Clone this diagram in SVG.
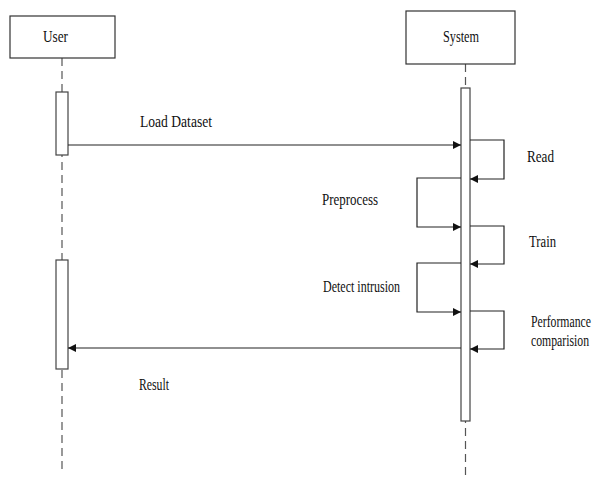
<svg xmlns="http://www.w3.org/2000/svg" width="597" height="480" viewBox="0 0 597 480">
<style>
.box{fill:#fff;stroke:#333;stroke-width:1.2}
.act{fill:#fff;stroke:#444;stroke-width:1.2}
.life{stroke:#555;stroke-width:1.2;stroke-dasharray:8,5;fill:none}
.msg{stroke:#222;stroke-width:1.2;fill:none}
.t{font-family:"Liberation Serif","Times New Roman",Times,serif;font-size:17px;fill:#111}
</style>
<defs>
<marker id="ah" viewBox="0 0 10 10" refX="10" refY="5" markerWidth="9" markerHeight="8" markerUnits="userSpaceOnUse" orient="auto">
<path d="M0,0 L10,5 L0,10 z" fill="#111"/>
</marker>
</defs>
<g id="lifelines">
<line class="life" x1="62" y1="58" x2="62" y2="472"/>
<line class="life" x1="465.5" y1="64" x2="465.5" y2="480"/>
</g>
<g id="user">
<rect class="box" x="10" y="16" width="105" height="42"/>
<text class="t" transform="translate(43,42) scale(0.72,1)" textLength="34.7" lengthAdjust="spacingAndGlyphs">User</text>
</g>
<g id="system">
<rect class="box" x="406" y="11" width="109" height="53"/>
<text class="t" transform="translate(443,42) scale(0.72,1)" textLength="50" lengthAdjust="spacingAndGlyphs">System</text>
</g>
<g id="user-activation-1"><rect class="act" x="56" y="92" width="12" height="63"/></g>
<g id="user-activation-2"><rect class="act" x="56" y="260" width="12" height="109"/></g>
<g id="system-activation"><rect class="act" x="461" y="88" width="9" height="333"/></g>
<g id="connectors">
<line class="msg" x1="68" y1="145" x2="461" y2="145" marker-end="url(#ah)"/>
<polyline class="msg" points="470,140 504,140 504,179 470,179" marker-end="url(#ah)"/>
<polyline class="msg" points="461,178 417,178 417,227 461,227" marker-end="url(#ah)"/>
<polyline class="msg" points="470,226 504,226 504,264 470,264" marker-end="url(#ah)"/>
<polyline class="msg" points="461,263 417,263 417,312 461,312" marker-end="url(#ah)"/>
<polyline class="msg" points="470,311 504,311 504,349 470,349" marker-end="url(#ah)"/>
<line class="msg" x1="461" y1="348" x2="68" y2="348" marker-end="url(#ah)"/>
</g>
<g id="labels">
<text class="t" transform="translate(140,127) scale(0.72,1)" textLength="100" lengthAdjust="spacingAndGlyphs">Load Dataset</text>
<text class="t" transform="translate(527,162) scale(0.72,1)" textLength="37.5" lengthAdjust="spacingAndGlyphs">Read</text>
<text class="t" transform="translate(322,205) scale(0.72,1)" textLength="77.8" lengthAdjust="spacingAndGlyphs">Preprocess</text>
<text class="t" transform="translate(529,247) scale(0.72,1)" textLength="37.5" lengthAdjust="spacingAndGlyphs">Train</text>
<text class="t" transform="translate(323,292) scale(0.72,1)" textLength="106.9" lengthAdjust="spacingAndGlyphs">Detect intrusion</text>
<text class="t" transform="translate(531,327) scale(0.72,1)" textLength="83.3" lengthAdjust="spacingAndGlyphs">Performance</text>
<text class="t" transform="translate(531,346) scale(0.72,1)" textLength="80.6" lengthAdjust="spacingAndGlyphs">comparision</text>
<text class="t" transform="translate(139,390) scale(0.72,1)" textLength="41.7" lengthAdjust="spacingAndGlyphs">Result</text>
</g>
</svg>
